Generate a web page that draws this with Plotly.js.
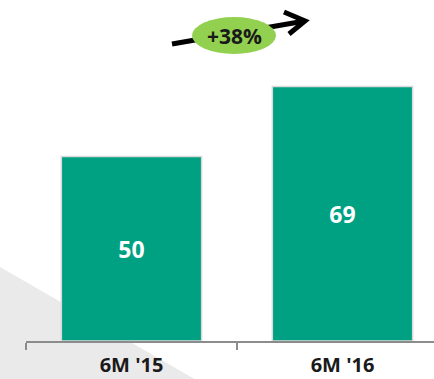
<!DOCTYPE html>
<html>
<head>
<meta charset="utf-8">
<script src="https://cdn.plot.ly/plotly-3.0.1.min.js"></script>
<style>
html,body{margin:0;padding:0;background:#fff;}
#chart{width:434px;height:379px;}
</style>
</head>
<body>
<div id="chart"></div>
<script>
// Data
var categories = ["6M '15", "6M '16"];
var values = [50, 69];
var valueLabels = ["50", "69"];
var growthLabel = "+38%";

// Layout geometry (pixels)
var W = 434, H = 379;
var M = {l: 26, r: 0, t: 0, b: 38};
var PW = W - M.l - M.r, PH = H - M.t - M.b;
function px(x) { return (x - M.l) / PW; }
function py(y) { return (M.t + PH - y) / PH; }

var trace = {
  type: 'bar',
  x: categories,
  y: values,
  text: valueLabels,
  textposition: 'inside',
  insidetextanchor: 'middle',
  textangle: 0,
  textfont: {family: 'Open Sans', size: 23, color: '#ffffff', weight: 'bold'},
  width: 0.665,
  marker: {color: '#00a082', line: {color: '#d9d9d9', width: 1.5}},
  hoverinfo: 'none',
  cliponaxis: false
};

var shapes = [
  // background light grey triangle
  {type: 'path', xref: 'paper', yref: 'paper', layer: 'below',
   path: 'M ' + px(-5) + ' ' + py(264) + ' L ' + px(205) + ' ' + py(385) + ' L ' + px(-5) + ' ' + py(385) + ' Z',
   fillcolor: '#eaeaea', line: {width: 0}},
  // arrow shaft
  {type: 'line', xref: 'paper', yref: 'paper',
   x0: px(172), y0: py(44), x1: px(302), y1: py(21.5),
   line: {color: '#000000', width: 5}},
  // arrow head (chevron)
  {type: 'path', xref: 'paper', yref: 'paper',
   path: 'M ' + px(284) + ' ' + py(12) + ' L ' + px(305) + ' ' + py(21) + ' L ' + px(289) + ' ' + py(34),
   line: {color: '#000000', width: 5}},
  // green ellipse
  {type: 'circle', xref: 'paper', yref: 'paper',
   x0: px(192), x1: px(276), y0: py(54), y1: py(17),
   fillcolor: '#92d050', line: {width: 0}}
];

var annotations = [
  {xref: 'paper', yref: 'paper', x: px(234), y: py(36), text: '<b>' + growthLabel + '</b>',
   showarrow: false, xanchor: 'center', yanchor: 'middle',
   font: {family: 'Open Sans', size: 21, color: '#1a1a1a'}}
];

var layout = {
  width: W, height: H,
  margin: M,
  paper_bgcolor: '#ffffff',
  plot_bgcolor: 'rgba(0,0,0,0)',
  showlegend: false,
  xaxis: {
    type: 'category',
    range: [-0.5, -0.5 + PW / 211],
    showgrid: false, zeroline: false,
    showline: true, linecolor: '#8c8c8c', linewidth: 2,
    ticks: 'outside', tickson: 'boundaries', ticklen: 7, tickwidth: 2, tickcolor: '#8c8c8c',
    ticklabelstandoff: 5,
    tickfont: {family: 'Open Sans', size: 20, color: '#1a1a1a', weight: 'bold'},
    fixedrange: true
  },
  yaxis: {
    range: [0, PH / 3.69],
    visible: false, showgrid: false, zeroline: false, fixedrange: true
  },
  shapes: shapes,
  annotations: annotations
};

Plotly.newPlot('chart', [trace], layout, {displayModeBar: false, staticPlot: true});
</script>
</body>
</html>
